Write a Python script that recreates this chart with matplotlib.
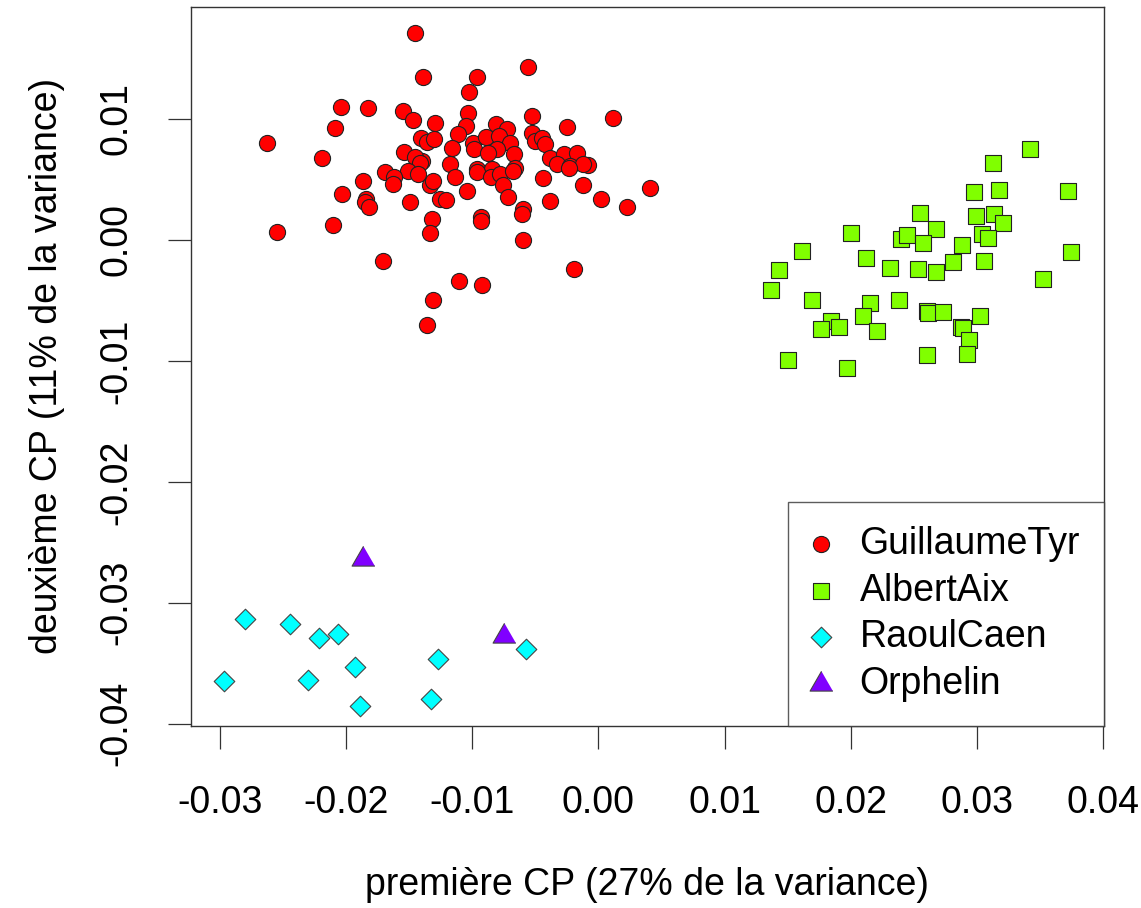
import numpy as np
import matplotlib
matplotlib.use('Agg')
import matplotlib.pyplot as plt

plt.rcParams['font.family'] = ['Liberation Sans', 'DejaVu Sans']

# PCA scores (first CP, second CP) per author
guillaume_x = [-0.01454, -0.00557, -0.01390, -0.00962, -0.01025, -0.02040, -0.01826, -0.01549,
               -0.01469, -0.01295, -0.01033, -0.00526, 0.00117, -0.00248, -0.00811, -0.00724,
               -0.01049, -0.01113, -0.02627, -0.01406, -0.01358, -0.01303, -0.00526, -0.00502,
               -0.00446, -0.00423, -0.00994, -0.00986, -0.00891, -0.00787, -0.00700, -0.00803,
               -0.00875, -0.00669, -0.01160, -0.00383, -0.00272, -0.00169, -0.00082, -0.01176,
               -0.01398, -0.00962, -0.00843, -0.00661, -0.00328, -0.00224, -0.00121, -0.02191,
               -0.01541, -0.01454, -0.01414, -0.01509, -0.01430, -0.01692, -0.01620, -0.01628,
               -0.01866, -0.01335, -0.01311, -0.02033, -0.01842, -0.01850, -0.01818, -0.01493,
               -0.01255, -0.01319, -0.01335, -0.02104, -0.02548, -0.01707, -0.01311, -0.01358,
               -0.01136, -0.00962, -0.00851, -0.00780, -0.00676, -0.00756, -0.01041, -0.01208,
               -0.00716, -0.00439, -0.00232, -0.00121, -0.00383, 0.00021, 0.00228, -0.00597,
               -0.00605, -0.00930, -0.00930, -0.00597, -0.00193, -0.01105, -0.00922, 0.00410,
               -0.02088]
guillaume_y = [0.01708, 0.01433, 0.01350, 0.01350, 0.01225, 0.01100, 0.01091, 0.01066,
               0.00991, 0.00966, 0.01050, 0.01025, 0.01008, 0.00933, 0.00958, 0.00916,
               0.00941, 0.00875, 0.00800, 0.00841, 0.00808, 0.00833, 0.00883, 0.00816,
               0.00841, 0.00791, 0.00800, 0.00750, 0.00850, 0.00858, 0.00800, 0.00750,
               0.00716, 0.00708, 0.00758, 0.00675, 0.00708, 0.00716, 0.00616, 0.00624,
               0.00650, 0.00583, 0.00583, 0.00591, 0.00624, 0.00608, 0.00624, 0.00675,
               0.00725, 0.00683, 0.00633, 0.00566, 0.00541, 0.00558, 0.00524, 0.00466,
               0.00491, 0.00458, 0.00483, 0.00383, 0.00341, 0.00316, 0.00274, 0.00316,
               0.00341, 0.00174, 0.00058, 0.00124, 0.00066, -0.00176, -0.00493, -0.00701,
               0.00524, 0.00558, 0.00524, 0.00541, 0.00566, 0.00458, 0.00408, 0.00333,
               0.00358, 0.00508, 0.00591, 0.00458, 0.00324, 0.00341, 0.00274, 0.00258,
               0.00216, 0.00191, 0.00158, -0.00001, -0.00243, -0.00343, -0.00376, 0.00433,
               0.00925]

albert_x = [0.03423, 0.03130, 0.02979, 0.03178, 0.03725, 0.02551, 0.02995, 0.03138,
            0.03209, 0.02678, 0.03043, 0.03090, 0.02004, 0.02400, 0.02448, 0.02575,
            0.02884, 0.01615, 0.02123, 0.02313, 0.02535, 0.02678, 0.02813, 0.03059,
            0.03749, 0.01433, 0.01370, 0.03527, 0.01695, 0.02155, 0.02099, 0.02385,
            0.02607, 0.02615, 0.02734, 0.03027, 0.01845, 0.01766, 0.01909, 0.02210,
            0.02876, 0.02889, 0.02940, 0.01504, 0.02607, 0.02924, 0.01972]
albert_y = [0.00750, 0.00633, 0.00399, 0.00416, 0.00408, 0.00224, 0.00199, 0.00216,
            0.00141, 0.00091, 0.00049, 0.00016, 0.00058, 0.00008, 0.00041, -0.00026,
            -0.00043, -0.00093, -0.00151, -0.00234, -0.00243, -0.00268, -0.00184, -0.00176,
            -0.00101, -0.00251, -0.00418, -0.00326, -0.00493, -0.00518, -0.00626, -0.00493,
            -0.00584, -0.00601, -0.00593, -0.00626, -0.00668, -0.00735, -0.00718, -0.00751,
            -0.00718, -0.00726, -0.00826, -0.00993, -0.00951, -0.00943, -0.01060]

raoul_x = [-0.02807, -0.02445, -0.02215, -0.02067, -0.00576, -0.01277, -0.01929, -0.02974,
           -0.02305, -0.01327, -0.01892]
raoul_y = [-0.03136, -0.03175, -0.03288, -0.03258, -0.03386, -0.03463, -0.03530, -0.03647,
           -0.03642, -0.03792, -0.03855]

orphelin_x = [-0.01868, -0.00748]
orphelin_y = [-0.02638, -0.03278]

labels = ['GuillaumeTyr', 'AlbertAix', 'RaoulCaen', 'Orphelin']
colors = ['#FF0000', '#80FF00', '#00FFFF', '#8000FF']

fig = plt.figure(figsize=(11.41, 9.08), dpi=100)
ax = fig.add_axes([0.1671, 0.2004, 0.8007, 0.7922])

tri = [(0, 0.577), (-0.5, -0.289), (0.5, -0.289)]
ax.scatter(guillaume_x, guillaume_y, s=135, marker='o', c=colors[0], edgecolors='#222222', linewidths=0.8, label=labels[0])
ax.scatter(albert_x, albert_y, s=118, marker='s', c=colors[1], edgecolors='#222222', linewidths=0.8, label=labels[1])
ax.scatter(raoul_x, raoul_y, s=110, marker='D', c=colors[2], edgecolors='#444444', linewidths=0.8, label=labels[2])
ax.scatter(orphelin_x, orphelin_y, s=360, marker=tri, c=colors[3], edgecolors='#444444', linewidths=0.8, label=labels[3])

ax.set_xlim(-0.03236, 0.04013)
ax.set_ylim(-0.04019, 0.01928)
ax.set_xticks(np.arange(-0.03, 0.0401, 0.01))
ax.set_yticks(np.arange(-0.04, 0.0101, 0.01))
ax.xaxis.set_major_formatter(matplotlib.ticker.FormatStrFormatter('%.2f'))
ax.yaxis.set_major_formatter(matplotlib.ticker.FormatStrFormatter('%.2f'))
ax.tick_params(labelsize=27, length=16.5, width=0.9, colors='#333333', labelcolor='black', pad=24)
ax.tick_params(axis='x', pad=26)
for lab in ax.get_yticklabels():
    lab.set_rotation(90)
    lab.set_va('center')
for sp in ax.spines.values():
    sp.set_linewidth(1.0)
    sp.set_color('#333333')

ax.set_xlabel('première CP (27% de la variance)', fontsize=27, labelpad=33)
ax.set_ylabel('deuxième CP (11% de la variance)', fontsize=27, labelpad=24)

leg = ax.legend(loc='lower right', fontsize=27, frameon=True, fancybox=False, borderaxespad=0,
                borderpad=0.65, labelspacing=0.28, handlelength=0.5, handletextpad=0.77,
                scatterpoints=1, markerscale=1.0)
leg.get_frame().set_edgecolor('#333333')
leg.get_frame().set_linewidth(1.0)

plt.savefig('out.png', dpi=100)
